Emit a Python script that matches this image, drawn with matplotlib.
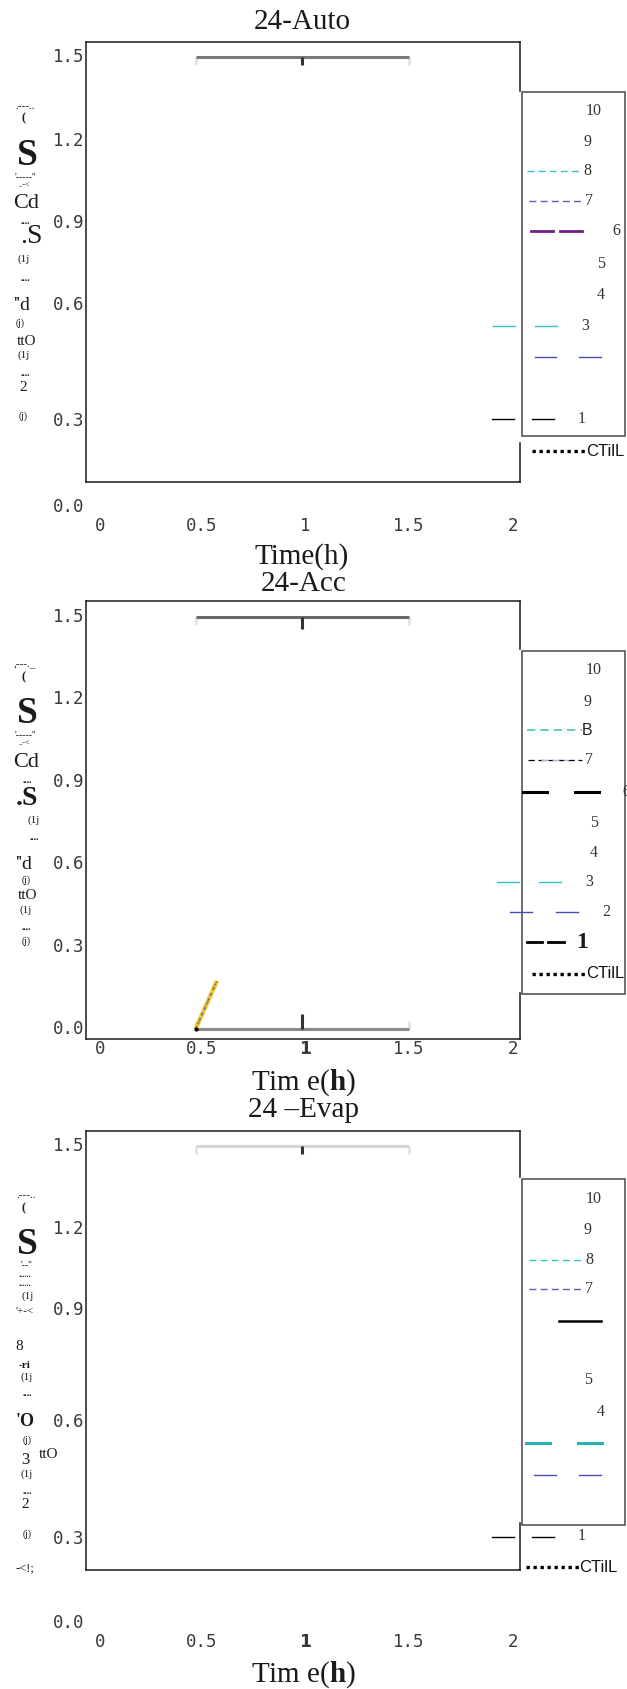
import matplotlib
matplotlib.use('Agg')
import matplotlib.pyplot as plt
from matplotlib.patches import Rectangle

plt.rcParams['mathtext.fontset'] = 'custom'
plt.rcParams['mathtext.rm'] = 'Liberation Serif'
plt.rcParams['mathtext.bf'] = 'Liberation Serif:bold'

W, H = 627, 1689

# ---- data -------------------------------------------------------------
titles = ['24-Auto', '24-Acc', '24 \u2013Evap']
xlabels = ['Time(h)', r'Tim e($\mathbf{h}$)', r'Tim e($\mathbf{h}$)']

xtick_labels = ['0', '0.5', '1', '1.5', '2']
xtick_pos = [0.053, 0.53, 1.013, 1.5, 1.987]
ytick_labels = ['1.5', '1.2', '0.9', '0.6', '0.3', '0.0']
ytick_pos_auto = [1.5, 1.194, 0.896, 0.597, 0.175, -0.138]
ytick_pos_acc = [1.5, 1.2, 0.9, 0.6, 0.3, 0.0]
ytick_pos_evap = [1.5, 1.198, 0.903, 0.495, 0.068, -0.236]

# horizontal range bars: centre, half width, levels per panel
bar_centre = 1.0
bar_half = 0.5
bar_levels = [[1.5], [1.5, 0.0], [1.5]]

# short rising trace in the Acc panel
acc_t = [0.50, 0.60]
acc_v = [0.0, 0.175]

# ---- layout (pixels) --------------------------------------------------
ax_px = [(85.6, 41.8, 519.6, 481.8), (85.6, 601, 519.6, 1039), (85.6, 1131, 519.6, 1569.6)]
ylims = [(-0.046, 1.555), (-0.036, 1.558), (-0.042, 1.555)]
ytick_pos = [ytick_pos_auto, ytick_pos_acc, ytick_pos_evap]
xpads = [25.5, 1.0, 46.0]
title_xy = [(302, 22), (304, 584), (304, 1110)]
xlabel_xy = [(302, 557), (304, 1083), (304, 1675)]
right_spine = [[(41.8, 91), (443, 481.8)], [(601, 649), (993, 1039)], [(1131, 1177), (1522.6, 1569.6)]]
leg_box = [(522, 92, 625, 436), (522, 651, 625, 994), (522, 1179, 625, 1525)]
bar_colors = [['#7a7a7a'], ['#6a6a6a', '#8a8a8a'], ['#d6d6d6']]
tick_len = [[0.03], [0.045, 0.055], [0.03]]

DASH = (0, (5, 3))
DOTS = (0, (1, 1.1))
CYAN, BLUE = '#36c0c8', '#4a4ab8'

# legend rows: label, label x, y, segments, colour, lw, style
leg_rows = [
    [('10', 594, 111, [], None, 1, '-'),
     ('9', 588, 142, [], None, 1, '-'),
     ('8', 587, 171, [(527, 581)], CYAN, 1.0, DASH),
     ('7', 589, 201, [(529, 583)], '#5b5bc0', 1.0, DASH),
     ('6', 616, 231, [(531, 553), (560, 582)], '#6e1f86', 2.0, '-'),
     ('5', 601, 264, [], None, 1, '-'),
     ('4', 601, 295, [], None, 1, '-'),
     ('3', 585, 326, [(493, 515), (535, 557)], CYAN, 1.0, '-'),
     ('', 0, 357, [(535, 556), (579, 601)], BLUE, 1.0, '-'),
     ('1', 582, 419, [(492, 514), (532, 554)], 'black', 1.0, '-')],
    [('10', 594, 670, [], None, 1, '-'),
     ('9', 588, 702, [], None, 1, '-'),
     ('7', 589, 760, [(528, 582)], 'black', 0.9, DASH),
     ('6', 626, 791.5, [(523, 547), (575, 599)], 'black', 2.2, '-'),
     ('5', 594, 823, [], None, 1, '-'),
     ('4', 594, 852.5, [], None, 1, '-'),
     ('3', 589, 882, [(497, 519), (539, 561)], CYAN, 1.0, '-'),
     ('2', 606, 911.5, [(510, 532), (556, 578)], BLUE, 1.0, '-'),
     ('', 0, 942, [(527, 542), (548, 564)], 'black', 2.0, '-')],
    [('10', 594, 1199, [], None, 1, '-'),
     ('9', 588, 1230, [], None, 1, '-'),
     ('8', 589, 1260, [(529, 585)], CYAN, 1.0, DASH),
     ('7', 589, 1288.6, [(529, 585)], '#5b5bc0', 1.0, DASH),
     ('', 0, 1321, [(559, 601)], 'black', 1.8, '-'),
     ('5', 588, 1380, [], None, 1, '-'),
     ('4', 601, 1412, [], None, 1, '-'),
     ('', 0, 1442.6, [(526, 550), (578, 602)], '#25b3b3', 2.2, '-'),
     ('', 0, 1475, [(534, 556), (579, 601)], BLUE, 1.0, '-'),
     ('1', 582, 1536.5, [(492, 514), (532, 554)], 'black', 1.0, '-')],
]
ctil_rows = [(586, 451, (532, 586)), (586, 973.6, (532, 586)), (579, 1567, (526, 580))]

# scrambled y-axis label fragments: text, x, y, size, bold
ylab_bits = [
    [('.---..', 25, 106, 8, False), ('(', 24, 118, 9, True), ('S', 27, 155, 27, True),
     ("'-----''", 25, 177, 7, False), ('..-<', 24, 185, 6, False), ('Cd', 26, 203, 16, False),
     ('....', 25, 221, 7, True), ('.S', 31, 236, 20, False), ('(1j', 24, 259, 8, False),
     ('....', 25, 278, 7, True), ("''d", 22, 305, 14, False), ('(j)', 20, 323, 7, False),
     ('ttO', 27, 341, 11, False), ('(1j', 24, 355, 8, False), ('....', 25, 373, 7, True),
     ('2', 23, 387, 11, False), ('(j)', 23, 416, 7, False)],
    [(',---._', 25, 665, 8, False), ('(', 24, 677, 9, True), ('S', 27, 713, 27, True),
     ("'-----''", 25, 735, 7, False), ('..-<', 24, 743, 6, False), ('Cd', 26, 762, 16, False),
     ('....', 27, 780, 7, True), ('.S', 27, 798, 20, True), ('(1j', 34, 820, 8, False),
     ('....', 34, 837, 7, True), ("''d", 24, 864, 14, False), ('(j)', 26, 880, 7, False),
     ('ttO', 28, 895, 11, False), ('(1j', 26, 910, 8, False), ('....', 26, 927, 7, True),
     ('(j)', 26, 941, 7, False)],
    [('.---..', 26, 1196, 8, False), ('(', 24, 1208, 9, True), ('S', 27, 1244, 27, True),
     ("'--''", 26, 1265, 7, False), ('......', 25, 1275, 6, True), ('......', 25, 1284, 6, True),
     ('(1j', 28, 1296, 8, False), ("'+-<", 25, 1311, 8, False), ('8', 19, 1346, 11, False),
     ('-ri', 24, 1365, 8, True), ('(1j', 27, 1377, 8, False), ('....', 27, 1393, 7, True),
     ("'O", 25, 1422, 13, True), ('(j)', 27, 1440, 7, False), ('3', 25, 1460, 12, False),
     ('ttO', 49, 1455, 11, False), ('(1j', 27, 1474, 8, False), ('....', 27, 1491, 7, True),
     ('2', 25, 1504, 11, False), ('(j)', 27, 1534, 7, False), ('-<!;', 25, 1568, 9, False)],
]

fig = plt.figure(figsize=(W / 100, H / 100), dpi=100)

for i in range(3):
    x0, y0, x1, y1 = ax_px[i]
    ax = fig.add_axes([x0 / W, 1 - y1 / H, (x1 - x0) / W, (y1 - y0) / H])
    ax.set_xlim(-0.015, 2.018)
    ax.set_ylim(*ylims[i])
    ax.set_yticks([])
    ax.set_xticks(xtick_pos, xtick_labels, family='DejaVu Sans Mono', fontsize=12.5, color='#3a3a3a')
    ax.tick_params(axis='x', length=0, pad=xpads[i])
    if i > 0:
        ax.get_xticklabels()[2].set_fontweight('bold')
        ax.get_xticklabels()[2].set_family('DejaVu Sans')
    for s in ['left', 'top', 'bottom']:
        ax.spines[s].set_color('#1a1a1a')
        ax.spines[s].set_linewidth(1.1)
    ax.spines['right'].set_visible(False)

    for lab, pos in zip(ytick_labels, ytick_pos[i]):
        ax.text(-0.002, pos, lab, transform=ax.get_yaxis_transform(), ha='right', va='center',
                family='DejaVu Sans Mono', fontsize=12.5, color='#3a3a3a', clip_on=False)

    for k, lvl in enumerate(bar_levels[i]):
        d = -1 if lvl > 0.5 else 1
        ax.vlines([bar_centre - bar_half, bar_centre + bar_half], lvl, lvl + d * 0.03,
                  color='#e2e2e2', lw=2)
        ax.hlines(lvl, bar_centre - bar_half, bar_centre + bar_half, color=bar_colors[i][k], lw=2.2)
        ax.vlines(bar_centre, lvl, lvl + d * tick_len[i][k], color='#333333', lw=2.2)

    if i == 1:
        ax.plot(acc_t, acc_v, color='#e6cf3c', lw=3.2, solid_capstyle='butt')
        ax.plot(acc_t, acc_v, color='#e07a22', lw=1.3, ls=(0, (2, 2)))
        ax.plot(acc_t, acc_v, color='#5a5ac8', lw=1.1, ls=(0, (1, 2.5)))
        ax.plot(acc_t[0], acc_v[0], 'k.', ms=4)

# overlay in pixel units for titles, labels and the legend panels
ov = fig.add_axes([0, 0, 1, 1], zorder=10)
ov.set_xlim(0, W)
ov.set_ylim(H, 0)
ov.axis('off')
ov.patch.set_alpha(0)

for i in range(3):
    ov.text(*title_xy[i], titles[i], ha='center', va='center', family='Liberation Serif',
            fontsize=21, color='#1a1a1a')
    ov.text(*xlabel_xy[i], xlabels[i], ha='center', va='center', family='Liberation Serif',
            fontsize=21, color='#1a1a1a')
    for a, b in right_spine[i]:
        ov.plot([519.6, 519.6], [a, b], color='#1a1a1a', lw=1.1)
    bx0, by0, bx1, by1 = leg_box[i]
    ov.add_patch(Rectangle((bx0, by0), bx1 - bx0, by1 - by0, fill=False, ec='#555555', lw=1.2))
    for lab, lx, y, segs, col, lw, ls in leg_rows[i]:
        for a, b in segs:
            ov.plot([a, b], [y, y], color=col, lw=lw, ls=ls)
        if lab:
            ov.text(lx, y, lab, ha='center', va='center', family='Liberation Serif',
                    fontsize=11.5, color='#333333')
    cx, cy, (d0, d1) = ctil_rows[i]
    ov.plot([d0, d1], [cy, cy], color='black', lw=2.4, ls=DOTS)
    ov.text(cx, cy, 'CTilL', ha='left', va='center', family='Liberation Sans', fontsize=12,
            color='#111111')
    for t, x, y, s, b in ylab_bits[i]:
        ov.text(x, y, t, ha='center', va='center', family='Liberation Serif', fontsize=s,
                fontweight='bold' if b else 'normal', color='#1a1a1a')

# odd extras in the Acc legend
ov.plot([541, 568], [760, 760], color='#b0b0e0', lw=1.0, ls=DASH)
ov.plot([527, 582], [730, 730], color='#4cc4c4', lw=1.2, ls=DASH)
ov.text(587, 730, 'B', ha='center', va='center', family='Liberation Sans', fontsize=11.5, color='#222222')
ov.text(582, 942, '1', ha='center', va='center', family='Liberation Serif', fontsize=17,
        fontweight='bold', color='#1a1a1a')

fig.savefig('out.png', dpi=100)
